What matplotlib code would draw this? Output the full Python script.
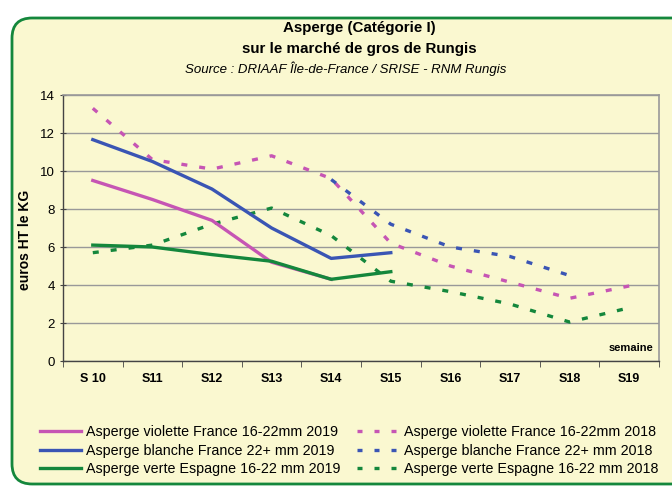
import matplotlib
matplotlib.use("Agg")
import matplotlib.pyplot as plt
from matplotlib.patches import FancyBboxPatch
from matplotlib.lines import Line2D
import numpy as np

weeks = ["S 10", "S11", "S12", "S13", "S14", "S15", "S16", "S17", "S18", "S19"]

violette_2019 = [9.5, 8.5, 7.4, 5.2, 4.3, None, None, None, None, None]
blanche_2019 = [11.65, 10.5, 9.05, 7.0, 5.4, 5.7, None, None, None, None]
verte_2019 = [6.1, 6.0, 5.6, 5.25, 4.3, 4.7, None, None, None, None]
violette_2018 = [13.3, 10.6, 10.1, 10.8, 9.6, 6.2, 5.0, 4.15, 3.3, 3.95]
blanche_2018 = [None, None, None, None, 9.55, 7.2, 6.0, 5.5, 4.5, None]
verte_2018 = [5.7, 6.1, 7.2, 8.05, 6.6, 4.2, 3.65, 3.0, 2.05, 2.8]

labels_2019 = ["Asperge violette France 16-22mm 2019",
               "Asperge blanche France 22+ mm 2019",
               "Asperge verte Espagne 16-22 mm 2019"]
labels_2018 = ["Asperge violette France 16-22mm 2018",
               "Asperge blanche France 22+ mm 2018",
               "Asperge verte Espagne 16-22 mm 2018"]

C_VIO = "#C655B4"
C_BLA = "#3A55B4"
C_VER = "#14873C"
BG = "#FAF8D0"

plt.rcParams['font.family'] = ['Liberation Sans', 'DejaVu Sans']

fig = plt.figure(figsize=(6.72, 4.87), dpi=100)
fig.patch.set_facecolor("white")

W, H = 672, 487
box = FancyBboxPatch((12 / W, 3 / H), 700 / W, (469 - 3) / H,
                     boxstyle="round,pad=0,rounding_size=0.03",
                     transform=fig.transFigure, facecolor=BG,
                     edgecolor=C_VER, linewidth=2.0, zorder=-5,
                     mutation_aspect=W / H)
fig.patches.append(box)

ax = fig.add_axes([63 / W, (487 - 361) / H, (659 - 63) / W, (361 - 95) / H])
ax.set_facecolor("none")
ax.set_zorder(2)

x = np.arange(len(weeks))

def arr(v):
    return np.array([np.nan if a is None else a for a in v], dtype=float)

lw = 2.4
dash = (0, (1.8, 3.6))
ax.plot(x, arr(violette_2018), color=C_VIO, lw=lw, linestyle=dash, zorder=3)
ax.plot(x, arr(blanche_2018), color=C_BLA, lw=lw, linestyle=dash, zorder=3)
ax.plot(x, arr(verte_2018), color=C_VER, lw=lw, linestyle=dash, zorder=3)
ax.plot(x, arr(violette_2019), color=C_VIO, lw=lw, zorder=4)
ax.plot(x, arr(blanche_2019), color=C_BLA, lw=lw, zorder=4)
ax.plot(x, arr(verte_2019), color=C_VER, lw=lw, zorder=5)

ax.set_xlim(-0.5, len(weeks) - 0.5)
ax.set_ylim(0, 14)
ax.set_yticks(np.arange(0, 15, 2))
ax.set_xticks(x)
ax.set_xticklabels(weeks, fontsize=9, fontweight="bold")
ax.set_xticks(np.arange(-0.5, len(weeks), 1), minor=True)
ax.tick_params(axis="x", which="major", length=0, pad=9)
ax.tick_params(axis="x", which="minor", length=4, direction="out", color="#444444")
ax.tick_params(axis="y", length=4, direction="inout", labelsize=9.5, color="#444444", pad=4)
ax.grid(axis="y", color="#999999", linewidth=1.0, zorder=1)
for s in ["top", "right"]:
    ax.spines[s].set_color("#999999")
    ax.spines[s].set_linewidth(1.2)
for s in ["left", "bottom"]:
    ax.spines[s].set_color("#444444")
    ax.spines[s].set_linewidth(1.0)

ax.set_ylabel("euros HT le KG", fontsize=10, fontweight="bold")
ax.yaxis.set_label_coords((32 - 63) / 596, (361 - 240) / 266)
ax.text(0.99, 0.03, "semaine", transform=ax.transAxes, ha="right", va="bottom",
        fontsize=8, fontweight="bold")

fig.text(0.535, 1 - 28 / H, "Asperge (Catégorie I)", ha="center", va="center",
         fontsize=10.9, fontweight="bold")
fig.text(0.535, 1 - 49 / H, "sur le marché de gros de Rungis", ha="center", va="center",
         fontsize=10.9, fontweight="bold")
fig.text(0.514, 1 - 69 / H, "Source : DRIAAF Île-de-France / SRISE - RNM Rungis",
         ha="center", va="center", fontsize=9.5, style="italic")

dash_leg = (0, (1.5, 3.6))
handles = [
    Line2D([], [], color=C_VIO, lw=lw),
    Line2D([], [], color=C_BLA, lw=lw),
    Line2D([], [], color=C_VER, lw=lw),
    Line2D([], [], color=C_VIO, lw=lw, linestyle=dash_leg),
    Line2D([], [], color=C_BLA, lw=lw, linestyle=dash_leg),
    Line2D([], [], color=C_VER, lw=lw, linestyle=dash_leg),
]
leg = fig.legend(handles, labels_2019 + labels_2018, ncol=2, frameon=False,
                 loc="upper left", bbox_to_anchor=(40 / W, 1 - 425 / H),
                 fontsize=10.3, handlelength=2.9, handletextpad=0.35,
                 columnspacing=1.15, labelspacing=0.32, borderaxespad=0,
                 borderpad=0)

fig.savefig("out.png", dpi=100, facecolor=fig.get_facecolor())
